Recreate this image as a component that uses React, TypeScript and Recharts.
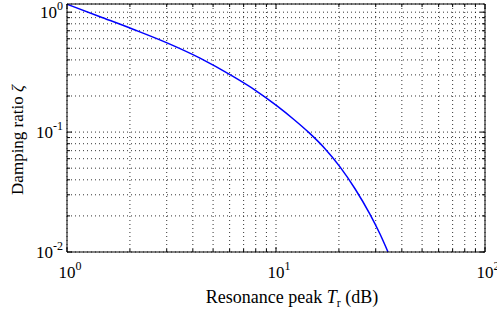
import { CartesianGrid, Line, LineChart, XAxis, YAxis } from "recharts";

const resonancePeakDb = [1, 1.439, 2.069, 3.01, 4.329, 6.228, 7.936, 10.11, 12.06, 14.38, 17.16, 20.24, 23.88, 28.18, 31.45, 34.35];
const dampingRatio = [1.166, 0.917, 0.721, 0.5545, 0.4137, 0.2913, 0.2242, 0.1654, 0.1292, 0.0989, 0.0727, 0.0513, 0.0337, 0.0206, 0.01412, 0.01];

const xTicks = [1, 2, 3, 4, 5, 6, 7, 8, 9, 10, 20, 30, 40, 50, 60, 70, 80, 90, 100];
const yTicks = [0.01, 0.02, 0.03, 0.04, 0.05, 0.06, 0.07, 0.08, 0.09, 0.1, 0.2, 0.3, 0.4, 0.5, 0.6, 0.7, 0.8, 0.9, 1];
const xLabels: Record<number, string> = { 1: "0", 10: "1", 100: "2" };
const yLabels: Record<string, string> = { "0.01": "-2", "0.1": "-1", "1": "0" };

const data = resonancePeakDb.map((x, i) => ({ x, y: dampingRatio[i] }));

const FONT = "'Liberation Serif', 'Times New Roman', serif";
const isMajor = (v: number) => Math.abs(Math.log10(v) - Math.round(Math.log10(v))) < 1e-9;

const BottomTick = (props: any) => {
  const { x, y, payload } = props;
  const v = payload.value;
  const len = isMajor(v) ? 5 : 3;
  const exp = xLabels[v];
  return (
    <g>
      <line x1={x} x2={x} y1={y} y2={y - len} stroke="#000" />
      {exp !== undefined && (
        <text x={x - 8.5} y={y + 26} fontFamily={FONT} fontSize={17} fill="#000">
          10<tspan dy={-8} fontSize={12}>{exp}</tspan>
        </text>
      )}
    </g>
  );
};

const TopTick = (props: any) => {
  const { x, y, payload } = props;
  const len = isMajor(payload.value) ? 5 : 3;
  return <line x1={x} x2={x} y1={y} y2={y + len} stroke="#000" />;
};

const LeftTick = (props: any) => {
  const { x, y, payload } = props;
  const v = payload.value;
  const len = isMajor(v) ? 5 : 3;
  const exp = yLabels[String(v)];
  return (
    <g>
      <line x1={x} x2={x + len} y1={y} y2={y} stroke="#000" />
      {exp !== undefined && (
        <text x={x - 4} y={y + 6} textAnchor="end" fontFamily={FONT} fontSize={17} fill="#000">
          10<tspan dy={-8} fontSize={12}>{exp}</tspan>
        </text>
      )}
    </g>
  );
};

const RightTick = (props: any) => {
  const { x, y, payload } = props;
  const len = isMajor(payload.value) ? 5 : 3;
  return <line x1={x} x2={x - len} y1={y} y2={y} stroke="#000" />;
};

export default function App() {
  return (
    <div style={{ position: "relative", width: 497, height: 310, background: "#fff" }}>
      <style>{"body{margin:0}"}</style>
      <LineChart width={497} height={310} data={data} margin={{ top: 0, right: 0, bottom: 0, left: 0 }}>
        <CartesianGrid stroke="#000" strokeDasharray="1 3" strokeWidth={0.8} />
        <XAxis
          dataKey="x"
          type="number"
          scale="log"
          domain={[1, 100]}
          ticks={xTicks}
          allowDataOverflow
          height={58}
          tickSize={0}
          tickMargin={0}
          interval={0}
          axisLine={{ stroke: "#000" }}
          tickLine={false}
          tick={<BottomTick />}
        />
        <XAxis
          xAxisId="top"
          orientation="top"
          dataKey="x"
          type="number"
          scale="log"
          domain={[1, 100]}
          ticks={xTicks}
          allowDataOverflow
          height={4}
          tickSize={0}
          tickMargin={0}
          interval={0}
          axisLine={{ stroke: "#000" }}
          tickLine={false}
          tick={<TopTick />}
        />
        <YAxis
          dataKey="y"
          type="number"
          scale="log"
          domain={[0.01, 1.17]}
          ticks={yTicks}
          allowDataOverflow
          width={67}
          tickSize={0}
          tickMargin={0}
          interval={0}
          axisLine={{ stroke: "#000" }}
          tickLine={false}
          tick={<LeftTick />}
        />
        <YAxis
          yAxisId="right"
          orientation="right"
          dataKey="y"
          type="number"
          scale="log"
          domain={[0.01, 1.17]}
          ticks={yTicks}
          allowDataOverflow
          width={12}
          tickSize={0}
          tickMargin={0}
          interval={0}
          axisLine={{ stroke: "#000" }}
          tickLine={false}
          tick={<RightTick />}
        />
        <Line
          xAxisId="top"
          yAxisId="right"
          dataKey="y"
          stroke="none"
          dot={false}
          isAnimationActive={false}
        />
        <Line
          dataKey="y"
          type="monotone"
          stroke="#0000ff"
          strokeWidth={1.5}
          dot={false}
          isAnimationActive={false}
        />
      </LineChart>
      <div
        style={{
          position: "absolute",
          left: 292,
          top: 299,
          transform: "translate(-50%, -50%)",
          fontFamily: FONT,
          fontSize: 18,
          whiteSpace: "nowrap",
          color: "#000",
        }}
      >
        Resonance peak <i>T</i>
        <sub style={{ fontSize: 12 }}>r</sub> (dB)
      </div>
      <div
        style={{
          position: "absolute",
          left: 18,
          top: 140,
          transform: "translate(-50%, -50%) rotate(-90deg)",
          fontFamily: FONT,
          fontSize: 17,
          whiteSpace: "nowrap",
          color: "#000",
        }}
      >
        Damping ratio <i>ζ</i>
      </div>
    </div>
  );
}
